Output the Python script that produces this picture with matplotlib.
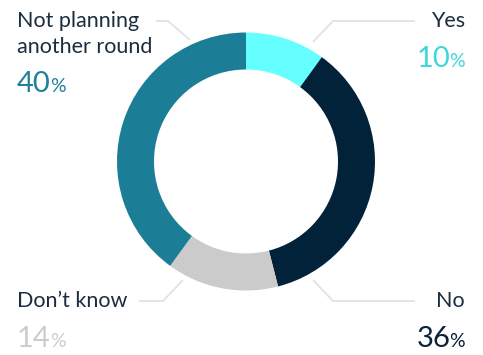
import matplotlib.pyplot as plt

# survey answers, clockwise from 12 o'clock
labels = ['Yes', 'No', "Don\u2019t know", 'Not planning\nanother round']
shares = [10, 36, 14, 40]
ring_colors = ['#66FFFF', '#02223A', '#CBCBCB', '#1B7E96']
pct_colors = ['#3DD8DB', '#0D2236', '#CCCCCC', '#1F8098']

W, H = 483, 355
LABEL_COLOR = '#1B2D40'
LINE_COLOR = '#E2E2E2'

plt.rcParams['font.family'] = ['Lato', 'DejaVu Sans']

fig = plt.figure(figsize=(W / 100, H / 100), dpi=100)
ax = fig.add_axes([0, 0, 1, 1])

cx, cy, r_out, ring = 246, 161.5, 129, 37
ax.pie(shares, colors=ring_colors, startangle=90, counterclock=False,
       center=(cx, H - cy), radius=r_out, frame=True,
       wedgeprops=dict(width=ring, linewidth=0))
ax.set_xlim(0, W)
ax.set_ylim(0, H)
ax.axis('off')


def line(xs, ys):
    ax.plot(xs, [H - y for y in ys], color=LINE_COLOR, lw=1.3,
            solid_capstyle='butt', zorder=0)


# leader lines (pixel coordinates, y measured from the top)
line([313, 333, 415], [42, 21, 21])
line([313, 333, 415], [280, 301, 301])
line([183, 163, 139], [280, 301, 301])
line([190, 168, 156], [40, 21, 21])

# category names: (x, baseline y, alignment)
name_pos = [(465, 27, 'right'), (465, 307, 'right'), (17, 307, 'left'), (17, 27, 'left')]
# percentages: (x, baseline y, alignment)
pct_pos = [(465, 67, 'right'), (465, 347, 'right'), (17, 347, 'left'), (17, 92, 'left')]

for lab, (x, y, ha) in zip(labels, name_pos):
    for i, t in enumerate(lab.split('\n')):
        ax.text(x, H - (y + 26 * i), t, ha=ha, va='baseline',
                fontsize=15.5, color=LABEL_COLOR)

fig.canvas.draw()
renderer = fig.canvas.get_renderer()
inv = ax.transData.inverted()

for val, col, (x, y, ha) in zip(shares, pct_colors, pct_pos):
    if ha == 'left':
        num = ax.text(x, H - y, str(val), ha='left', va='baseline',
                      fontsize=21, color=col)
        bb = num.get_window_extent(renderer)
        x_end = inv.transform((bb.x1, 0))[0]
        ax.text(x_end - 1, H - y, '%', ha='left', va='baseline',
                fontsize=14, color=col)
    else:
        pc = ax.text(x, H - y, '%', ha='right', va='baseline',
                     fontsize=14, color=col)
        bb = pc.get_window_extent(renderer)
        x_start = inv.transform((bb.x0, 0))[0]
        ax.text(x_start + 1, H - y, str(val), ha='right', va='baseline',
                fontsize=21, color=col)

fig.savefig('out.png', dpi=100)
